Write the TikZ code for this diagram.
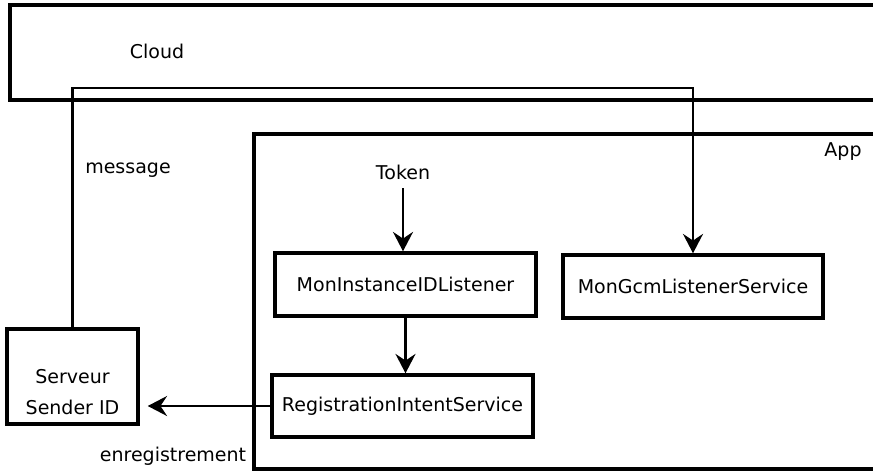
\documentclass[tikz,border=0pt]{standalone}
\usepackage{fontspec}
\setmainfont{DejaVu Sans}
\usetikzlibrary{arrows.meta}

\begin{document}
\begin{tikzpicture}[x=0.75pt, y=-0.75pt,
    font=\fontsize{14.25pt}{17pt}\selectfont,
    bloc/.style={draw, line width=2.6pt, inner sep=0pt,
        minimum height=47.25pt, minimum width=195.75pt},
    zone/.style={draw, line width=2.4pt},
    fleche/.style={line width=2pt, -{Stealth[length=14.5pt, width=15pt, inset=5pt]}}]
    \useasboundingbox (0,0) rectangle (873,471);
    \clip (0,0) rectangle (873,471);
    % zones
    \draw[zone] (10,5) rectangle (900,100);
    \draw[zone] (254,134) rectangle (900,469);
    \node (cloud) at (157,51) {Cloud};
    \node (app) at (843,152) {App};
    % blocs
    \node[bloc] (moninstance) at (405.5,284.5) {MonInstanceIDListener};
    \node[bloc, minimum width=195pt] (mongcm) at (693,286.5) {MonGcmListenerService};
    \node[bloc, minimum height=46.5pt] (registration) at (402.5,406) {RegistrationIntentService};
    \node[bloc, minimum width=98.25pt, minimum height=71.25pt] (serveur) at (72.5,376.5) {};
    \node[align=center, font=\fontsize{14.25pt}{23.25pt}\selectfont] (serveurtxt) at (72.5,392.5) {Serveur\\Sender ID};
    % textes
    \node (token) at (403,172) {Token};
    \node (message) at (128,170) {message};
    \node (enregistrement) at (173,456) {enregistrement};
    % fleches
    \coordinate (coude) at (693,88);
    \draw[fleche, shorten <=3pt] (token) -- (token |- moninstance.north);
    \draw[fleche] (moninstance) -- (moninstance |- registration.north);
    \draw[fleche, shorten >=6pt] (registration) -- (serveur.east |- registration.west);
    \draw[fleche] (serveur.north) |- (coude) -- (mongcm.north);
\end{tikzpicture}
\end{document}
